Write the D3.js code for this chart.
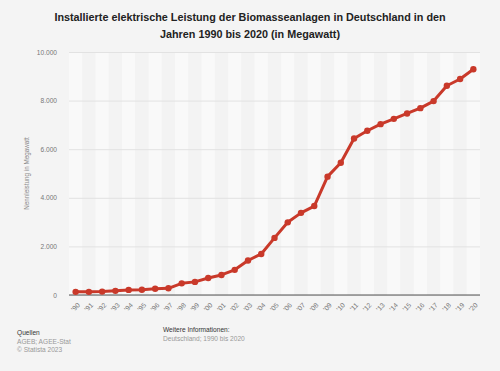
<!DOCTYPE html>
<html>
<head>
<meta charset="utf-8">
<script src="https://cdn.jsdelivr.net/npm/d3@7"></script>
<style>
  body { margin: 0; background: #f4f4f4; }
  svg { display: block; font-family: "Liberation Sans", Arial, sans-serif; }
</style>
</head>
<body>
<div id="chart"></div>
<script>
var years = ["'90","'91","'92","'93","'94","'95","'96","'97","'98","'99",
             "'00","'01","'02","'03","'04","'05","'06","'07","'08","'09",
             "'10","'11","'12","'13","'14","'15","'16","'17","'18","'19","'20"];
var leistung = [130, 130, 140, 170, 210, 215, 255, 275, 480, 540,
                700, 825, 1035, 1420, 1690, 2350, 2990, 3380, 3660, 4870,
                5440, 6440, 6760, 7030, 7250, 7470, 7690, 7980, 8610, 8890, 9290];
var yTicks = [0, 2000, 4000, 6000, 8000, 10000];
var titleLines = ["Installierte elektrische Leistung der Biomasseanlagen in Deutschland in den",
                  "Jahren 1990 bis 2020 (in Megawatt)"];

var svgW = 500;
var svgH = 371;
var margin = { left: 69, right: 20, top: 52, bottom: 76 };
var chartW = svgW - margin.left - margin.right;
var chartH = svgH - margin.top - margin.bottom;

var data = years.map((y, i) => ({ year: y, value: leistung[i] }));

var svg = d3.select("#chart")
            .append("svg")
            .attr("width", svgW)
            .attr("height", svgH);

svg.append("rect").attr("width", svgW).attr("height", svgH).attr("fill", "#f4f4f4");

// title
svg.selectAll("text.title")
   .data(titleLines)
   .enter()
   .append("text")
   .attr("class", "title")
   .attr("x", 250)
   .attr("y", (d, i) => 21 + i * 16.5)
   .attr("text-anchor", "middle")
   .attr("font-size", "10.8px")
   .attr("font-weight", "bold")
   .attr("fill", "#222")
   .text(d => d);

var g = svg.append("g")
           .attr("transform", `translate(${margin.left}, ${margin.top})`);

var xScale = d3.scaleBand()
               .domain(years)
               .range([0, chartW]);

var yScale = d3.scaleLinear()
               .domain([0, 10000])
               .range([chartH, 0]);

// alternating column bands
g.selectAll("rect.band")
 .data(years)
 .enter()
 .append("rect")
 .attr("class", "band")
 .attr("x", d => xScale(d))
 .attr("y", 0)
 .attr("width", xScale.bandwidth())
 .attr("height", chartH)
 .attr("fill", (d, i) => i % 2 == 0 ? "#f9f9f9" : "#f3f3f3");

// gridlines + y labels
var leftAxis = d3.axisLeft(yScale)
                 .tickValues(yTicks)
                 .tickSize(-chartW)
                 .tickPadding(12)
                 .tickFormat(d => d3.format(",")(d).replace(/,/g, "."));

var yAxisG = g.append("g").call(leftAxis);
yAxisG.select(".domain").remove();
yAxisG.selectAll("line").attr("stroke", "#e2e2e2").attr("stroke-width", 1);
yAxisG.selectAll("text").attr("fill", "#777").attr("font-size", "6.6px");

// baseline
g.append("line")
 .attr("x1", 0).attr("x2", chartW)
 .attr("y1", yScale(0)).attr("y2", yScale(0))
 .attr("stroke", "#555").attr("stroke-width", 1.2);

// x labels
var bottomAxis = d3.axisBottom(xScale).tickSize(0).tickPadding(0);
var xAxisG = g.append("g")
              .attr("transform", `translate(0, ${chartH})`)
              .call(bottomAxis);
xAxisG.select(".domain").remove();
xAxisG.selectAll("text")
      .attr("fill", "#777")
      .attr("font-size", "6.8px")
      .attr("text-anchor", "end")
      .attr("dy", "0.35em")
      .attr("transform", "translate(3, 9) rotate(-45)");

// y axis title
svg.append("text")
   .attr("transform", `translate(29, ${margin.top + chartH / 2}) rotate(-90)`)
   .attr("text-anchor", "middle")
   .attr("font-size", "6.3px")
   .attr("fill", "#888")
   .text("Nennleistung in Megawatt");

// line
var line = d3.line()
             .x(d => xScale(d.year) + xScale.bandwidth() / 2)
             .y(d => yScale(d.value));

g.append("path")
 .datum(data)
 .attr("d", line)
 .attr("fill", "none")
 .attr("stroke", "#c9392a")
 .attr("stroke-width", 3)
 .attr("stroke-linejoin", "round");

g.selectAll("circle")
 .data(data)
 .enter()
 .append("circle")
 .attr("cx", d => xScale(d.year) + xScale.bandwidth() / 2)
 .attr("cy", d => yScale(d.value))
 .attr("r", 3.2)
 .attr("fill", "#c9392a");

// footer
svg.append("text").attr("x", 17).attr("y", 335).attr("font-size", "6.6px").attr("fill", "#333").text("Quellen");
svg.append("text").attr("x", 17).attr("y", 343.5).attr("font-size", "6.6px").attr("fill", "#999").text("AGEB; AGEE-Stat");
svg.append("text").attr("x", 17).attr("y", 352).attr("font-size", "6.6px").attr("fill", "#999").text("© Statista 2023");
svg.append("text").attr("x", 163).attr("y", 332).attr("font-size", "6.6px").attr("fill", "#333").text("Weitere Informationen:");
svg.append("text").attr("x", 163).attr("y", 340.5).attr("font-size", "6.6px").attr("fill", "#999").text("Deutschland; 1990 bis 2020");
</script>
</body>
</html>
